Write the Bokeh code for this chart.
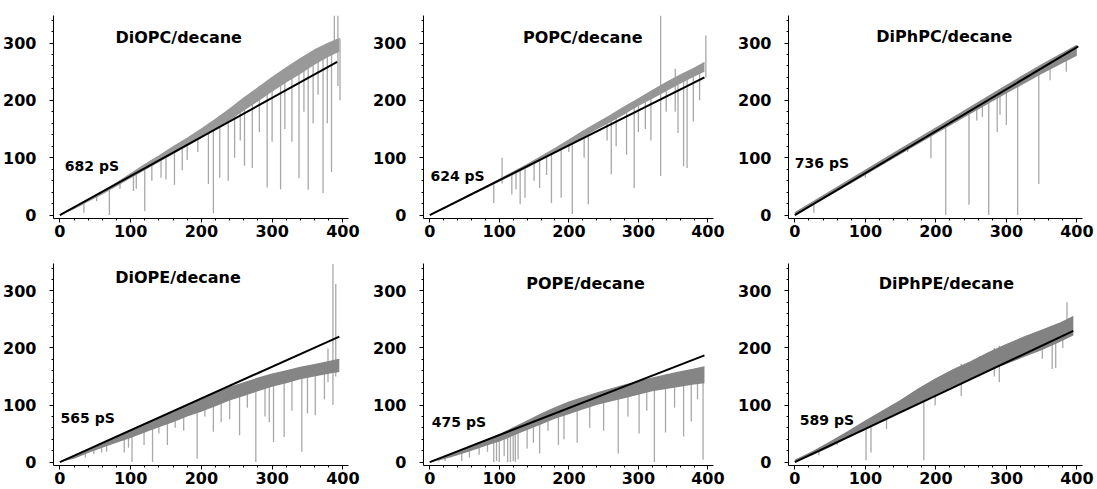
from bokeh.plotting import figure
from bokeh.layouts import column, row
from bokeh.models import Range1d, SingleIntervalTicker
from bokeh.core.properties import value
from bokeh.embed import file_html
from bokeh.resources import INLINE

# ---------------- data (voltage in mV, current in pA) ----------------
titles = ["DiOPC/decane", "POPC/decane", "DiPhPC/decane",
          "DiOPE/decane", "POPE/decane", "DiPhPE/decane"]
conductance_labels = ["682 pS", "624 pS", "736 pS", "565 pS", "475 pS", "589 pS"]
x_ticks = [0, 100, 200, 300, 400]
y_ticks = [0, 100, 200, 300]

# DiOPC
diopc_band_x = [0, 20, 40, 60, 80, 100, 120, 140, 160, 180, 200, 220, 240, 260, 280, 300, 320, 340, 360, 380, 395]
diopc_band_hi = [0, 13, 27, 41, 56, 72, 88, 103, 119, 134, 150, 167, 185, 204, 222, 240, 257, 273, 288, 300, 308]
diopc_band_lo = [0, 10, 23, 36, 50, 64, 78, 92, 106, 120, 134, 150, 165, 182, 198, 215, 231, 246, 262, 276, 285]
diopc_spk_x = [34, 52, 70, 85, 104, 108, 120, 130, 143, 150, 162, 173, 180, 195, 210, 217, 226, 238, 247, 255, 261, 272, 282, 293, 300, 312, 318, 328, 338, 345, 351, 358, 365, 372, 378, 384, 388, 393, 396]
diopc_spk_top = [24, 36, 49, 60, 74, 78, 87, 95, 104, 110, 120, 128, 134, 146, 158, 164, 172, 183, 192, 199, 205, 215, 224, 234, 240, 250, 255, 263, 270, 276, 280, 286, 291, 295, 299, 302, 348, 348, 308]
diopc_spk_bot = [4, 24, 0, 46, 42, 46, 7, 60, 65, 62, 53, 78, 96, 110, 54, 3, 65, 60, 100, 130, 86, 82, 145, 48, 128, 45, 150, 128, 64, 180, 44, 160, 210, 38, 160, 75, 290, 225, 200]
diopc_fit_x = [0, 392]
diopc_fit_y = [0, 267]

# POPC
popc_band_x = [0, 20, 40, 60, 80, 100, 120, 140, 160, 180, 200, 220, 240, 260, 280, 300, 320, 340, 360, 380, 395]
popc_band_hi = [0, 12, 24, 37, 49, 62, 75, 88, 102, 116, 131, 146, 160, 174, 189, 203, 217, 231, 244, 256, 266]
popc_band_lo = [0, 10, 22, 34, 46, 58, 70, 82, 95, 108, 121, 135, 149, 162, 176, 190, 203, 216, 229, 241, 250]
popc_spk_x = [92, 104, 118, 124, 130, 137, 150, 158, 168, 175, 189, 200, 205, 222, 228, 255, 261, 268, 283, 294, 300, 310, 318, 332, 340, 353, 357, 365, 370, 379, 388, 397]
popc_spk_top = [58, 100, 73, 77, 81, 86, 95, 100, 106, 112, 122, 128, 132, 144, 148, 166, 170, 175, 185, 193, 196, 205, 208, 348, 222, 255, 232, 238, 241, 247, 255, 313]
popc_spk_bot = [21, 55, 36, 45, 19, 30, 60, 47, 70, 21, 30, 110, 2, 100, 19, 130, 71, 120, 105, 47, 145, 150, 130, 68, 180, 180, 143, 85, 82, 163, 200, 240]
popc_fit_x = [0, 395]
popc_fit_y = [0, 240]

# DiPhPC
diphpc_band_x = [0, 50, 100, 150, 200, 250, 300, 350, 400]
diphpc_band_hi = [4, 41, 78, 115, 152, 189, 226, 262, 296]
diphpc_band_lo = [0, 34, 70, 106, 142, 177, 212, 246, 278]
diphpc_spk_x = [27, 100, 160, 193, 214, 247, 258, 266, 275, 287, 291, 300, 316, 346, 362, 385]
diphpc_spk_top = [22, 75, 120, 143, 158, 183, 191, 197, 203, 212, 215, 222, 233, 255, 266, 284]
diphpc_spk_bot = [4, 65, 110, 99, 0, 18, 165, 171, 0, 145, 175, 157, 0, 54, 235, 250]
diphpc_fit_x = [0, 402]
diphpc_fit_y = [0, 294]

# DiOPE
diope_band_x = [0, 20, 40, 60, 80, 100, 120, 140, 160, 180, 200, 220, 240, 260, 280, 300, 320, 340, 360, 380, 395]
diope_band_hi = [0, 11, 22, 34, 45, 56, 67, 78, 89, 100, 111, 121, 131, 139, 147, 154, 160, 166, 171, 176, 180]
diope_band_lo = [0, 6, 16, 25, 34, 42, 52, 61, 70, 80, 88, 98, 108, 116, 124, 132, 138, 145, 150, 155, 158]
diope_spk_x = [36, 48, 59, 66, 91, 97, 102, 119, 131, 140, 152, 163, 175, 194, 205, 217, 228, 240, 254, 265, 277, 290, 296, 302, 317, 328, 342, 350, 361, 374, 379, 386, 390]
diope_spk_top = [18, 25, 32, 36, 50, 53, 56, 66, 72, 77, 84, 90, 97, 107, 114, 120, 126, 131, 136, 140, 145, 150, 152, 154, 159, 162, 166, 168, 171, 174, 199, 347, 312]
diope_spk_bot = [8, 14, 17, 18, 17, 25, 0, 30, 0, 50, 30, 60, 55, 6, 80, 53, 70, 75, 47, 95, 0, 80, 70, 35, 44, 90, 18, 85, 82, 110, 140, 100, 150]
diope_fit_x = [0, 395]
diope_fit_y = [0, 220]

# POPE
pope_band_x = [0, 20, 40, 60, 80, 100, 120, 140, 160, 180, 200, 220, 240, 260, 280, 300, 320, 340, 360, 380, 395]
pope_band_hi = [0, 9, 18, 28, 38, 48, 60, 72, 84, 95, 105, 113, 121, 128, 135, 141, 147, 153, 158, 163, 167]
pope_band_lo = [0, 5, 12, 20, 28, 36, 46, 56, 66, 76, 84, 92, 100, 106, 112, 118, 124, 128, 132, 136, 138]
pope_spk_x = [13, 22, 31, 46, 57, 71, 83, 92, 96, 100, 107, 112, 116, 120, 123, 127, 140, 149, 158, 170, 185, 193, 212, 230, 250, 271, 285, 301, 312, 323, 339, 352, 365, 376, 385, 393]
pope_spk_top = [6, 10, 15, 22, 27, 34, 40, 45, 47, 49, 53, 56, 58, 60, 62, 65, 72, 77, 83, 90, 97, 102, 109, 116, 124, 132, 137, 142, 145, 148, 152, 155, 158, 161, 163, 166]
pope_spk_bot = [1, 2, 8, 2, 8, 13, 18, 0, 2, 0, 10, 0, 0, 2, 0, 5, 24, 34, 15, 55, 30, 40, 34, 60, 55, 15, 80, 50, 90, 0, 52, 95, 45, 71, 110, 4]
pope_fit_x = [0, 395]
pope_fit_y = [0, 187]

# DiPhPE
diphpe_band_x = [0, 25, 50, 75, 100, 125, 150, 175, 200, 225, 250, 275, 300, 325, 350, 375, 395]
diphpe_band_hi = [3, 18, 35, 53, 72, 90, 108, 128, 146, 162, 176, 192, 206, 219, 231, 243, 255]
diphpe_band_lo = [0, 12, 26, 42, 56, 73, 88, 103, 118, 133, 146, 160, 172, 184, 196, 210, 222]
diphpe_spk_x = [34, 60, 101, 108, 130, 183, 199, 236, 262, 283, 290, 351, 365, 370, 380, 386]
diphpe_spk_top = [24, 38, 68, 74, 90, 132, 145, 172, 186, 200, 204, 228, 237, 240, 247, 280]
diphpe_spk_bot = [12, 30, 3, 17, 58, 3, 99, 116, 150, 150, 140, 181, 163, 165, 200, 230]
diphpe_fit_x = [0, 395]
diphpe_fit_y = [0, 230]

# ---------------- styling ----------------
FONT = "DejaVu Sans"
SPIKE = "#a8a8a8"


def panel(title, glabel, bx, bhi, blo, sx, stop, sbot, fx, fy,
          title_pos, label_pos, width, height, b_left, b_right, b_top, b_bottom,
          band_color):
    p = figure(width=width, height=height, output_backend="svg", toolbar_location=None,
               x_range=Range1d(-9, 408), y_range=Range1d(-6, 348),
               min_border_left=b_left, min_border_right=b_right,
               min_border_top=b_top, min_border_bottom=b_bottom)
    p.outline_line_color = None
    p.grid.grid_line_color = None
    p.background_fill_color = "white"
    p.border_fill_color = "white"

    p.segment(x0=sx, y0=sbot, x1=sx, y1=stop, line_color=SPIKE, line_width=1.3)
    p.varea(x=bx, y1=blo, y2=bhi, fill_color=band_color, fill_alpha=1.0)
    p.line(bx, bhi, line_color=band_color, line_width=1.2)
    p.line(fx, fy, line_color="black", line_width=2)

    p.text(x=[title_pos[0]], y=[title_pos[1]], text=[title], text_font=value(FONT),
           text_font_style="bold", text_font_size="16px", text_align="center",
           text_baseline="middle", text_color="black")
    p.text(x=[label_pos[0]], y=[label_pos[1]], text=[glabel], text_font=value(FONT),
           text_font_style="bold", text_font_size="14px", text_align="left",
           text_baseline="middle", text_color="black")

    p.xaxis.ticker = SingleIntervalTicker(interval=100, num_minor_ticks=5)
    p.yaxis.ticker = SingleIntervalTicker(interval=100, num_minor_ticks=5)
    for ax in (p.xaxis, p.yaxis):
        ax.axis_line_color = "black"
        ax.axis_line_width = 1
        ax.major_tick_line_color = "black"
        ax.minor_tick_line_color = "black"
        ax.major_tick_in = 0
        ax.major_tick_out = 4
        ax.minor_tick_in = 0
        ax.minor_tick_out = 2
        ax.major_label_text_font = FONT
        ax.major_label_text_font_style = "bold"
        ax.major_label_text_font_size = "16px"
        ax.major_label_text_color = "black"
    p.xaxis.major_label_standoff = 2
    p.yaxis.major_label_standoff = 13
    return p


row1_h, row2_h = 248, 241
p1 = panel(titles[0], conductance_labels[0], diopc_band_x, diopc_band_hi, diopc_band_lo,
           diopc_spk_x, diopc_spk_top, diopc_spk_bot, diopc_fit_x, diopc_fit_y,
           (168, 310), (7, 85), 370, row1_h, 52, 22, 15, 30, "#999999")
p2 = panel(titles[1], conductance_labels[1], popc_band_x, popc_band_hi, popc_band_lo,
           popc_spk_x, popc_spk_top, popc_spk_bot, popc_fit_x, popc_fit_y,
           (220, 310), (1, 68), 365, row1_h, 43, 22, 15, 30, "#969696")
p3 = panel(titles[2], conductance_labels[2], diphpc_band_x, diphpc_band_hi, diphpc_band_lo,
           diphpc_spk_x, diphpc_spk_top, diphpc_spk_bot, diphpc_fit_x, diphpc_fit_y,
           (212, 312), (0, 90), 362, row1_h, 45, 15, 15, 30, "#8a8a8a")
p4 = panel(titles[3], conductance_labels[3], diope_band_x, diope_band_hi, diope_band_lo,
           diope_spk_x, diope_spk_top, diope_spk_bot, diope_fit_x, diope_fit_y,
           (167, 324), (1, 77), 370, row2_h, 52, 22, 15, 24, "#858585")
p5 = panel(titles[4], conductance_labels[4], pope_band_x, pope_band_hi, pope_band_lo,
           pope_spk_x, pope_spk_top, pope_spk_bot, pope_fit_x, pope_fit_y,
           (224, 313), (3, 70), 365, row2_h, 43, 22, 15, 24, "#858585")
p6 = panel(titles[5], conductance_labels[5], diphpe_band_x, diphpe_band_hi, diphpe_band_lo,
           diphpe_spk_x, diphpe_spk_top, diphpe_spk_bot, diphpe_fit_x, diphpe_fit_y,
           (215, 313), (7, 73), 362, row2_h, 45, 15, 15, 24, "#828282")

layout = column(row(p1, p2, p3), row(p4, p5, p6))
open("out.html", "w").write(file_html(layout, INLINE))
